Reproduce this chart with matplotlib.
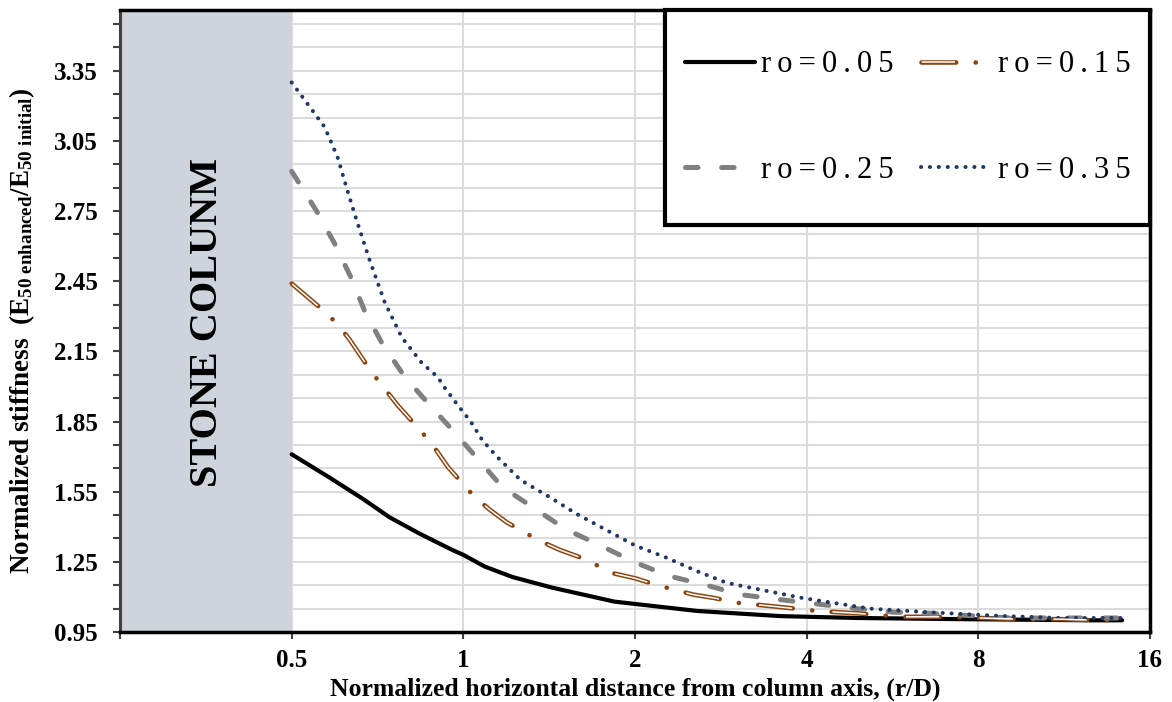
import numpy as np
import matplotlib
matplotlib.use("Agg")
import matplotlib.pyplot as plt
from matplotlib.patches import Rectangle
from matplotlib.ticker import FixedLocator, NullLocator

plt.rcParams['font.family'] = ['Liberation Serif', 'DejaVu Serif']
plt.rcParams['mathtext.fontset'] = 'custom'
plt.rcParams['mathtext.rm'] = 'Liberation Serif:bold'
plt.rcParams['mathtext.bf'] = 'Liberation Serif:bold'
plt.rcParams['mathtext.it'] = 'Liberation Serif:bold'
plt.rcParams['lines.scale_dashes'] = False

# data (r/D vs normalized stiffness)
x_005 = [0.5, 0.583, 0.666, 0.743, 0.839, 0.958, 1.0, 1.09, 1.22, 1.43, 1.84, 2.57, 3.6, 4.9, 7.44, 12.7, 14.3]
y_005 = [1.71, 1.61, 1.52, 1.44, 1.37, 1.30, 1.28, 1.23, 1.185, 1.14, 1.08, 1.04, 1.018, 1.01, 1.005, 1.0, 1.0]

x_015 = [0.5, 0.565, 0.6, 0.632, 0.691, 0.728, 0.767, 0.849, 0.895, 0.94, 1.04, 1.11, 1.19, 1.36,
         1.48, 1.6, 1.84, 2.0, 2.19, 2.53, 2.76, 3.02, 3.49, 3.82, 4.17, 4.9, 5.84, 6.78, 8.07,
         9.48, 11.1, 13.1, 14.3]
y_015 = [2.44, 2.33, 2.27, 2.20, 2.06, 1.99, 1.92, 1.80, 1.73, 1.655, 1.535, 1.475, 1.42, 1.34,
         1.30, 1.27, 1.20, 1.18, 1.15, 1.11, 1.095, 1.075, 1.06, 1.05, 1.04, 1.03, 1.015, 1.015, 1.01,
         1.005, 1.005, 1.0, 1.0]

x_025 = [0.5, 0.553, 0.595, 0.637, 0.672, 0.722, 0.79, 0.866, 0.96, 1.06, 1.17, 1.33, 1.51, 1.74,
         1.99, 2.29, 2.67, 3.06, 3.55, 4.17, 4.9, 5.67, 6.59, 9.1, 14.3]
y_025 = [2.92, 2.75, 2.61, 2.46, 2.32, 2.18, 2.04, 1.93, 1.81, 1.69, 1.57, 1.48, 1.39, 1.32,
         1.25, 1.19, 1.15, 1.11, 1.09, 1.07, 1.05, 1.035, 1.03, 1.01, 1.01]

x_035 = [0.5, 0.571, 0.602, 0.624, 0.65, 0.685, 0.728, 0.78, 0.846, 0.902, 0.924, 0.978, 1.03, 1.08,
         1.145, 1.26, 1.41, 1.58, 1.77, 2.0, 2.26, 2.57, 2.9, 3.18, 3.94, 5.17, 6.5, 8.5, 11.1, 14.3]
y_035 = [3.30, 3.11, 2.98, 2.85, 2.71, 2.54, 2.36, 2.21, 2.10, 2.04, 2.0, 1.92, 1.85, 1.77,
         1.70, 1.60, 1.53, 1.455, 1.39, 1.32, 1.27, 1.21, 1.16, 1.14, 1.095, 1.05, 1.035, 1.02, 1.01, 1.01]

labels = ['ro=0.05', 'ro=0.15', 'ro=0.25', 'ro=0.35']
x_ticks = [0.25, 0.5, 1, 2, 4, 8, 16]
x_ticklabels = ['', '0.5', '1', '2', '4', '8', '16']
y_ticks = [0.95, 1.25, 1.55, 1.85, 2.15, 2.45, 2.75, 3.05, 3.35]

brown = '#8c4410'
navy = '#1f3864'
gray = '#808080'


def spaced(s):
    return '\u2009'.join(s)


fig = plt.figure(figsize=(11.72, 7.02), dpi=100)
ax = fig.add_axes([0.1024, 0.0997, 0.9812 - 0.1024, 0.9858 - 0.0997])

ax.set_xscale('log', base=2)
ax.set_xlim(0.25, 16)
ax.set_ylim(0.95, 3.61)

# stone column zone
ax.axvspan(0.25, 0.5, color='#cfd3dc', zorder=1.5, lw=0)
ax.text(0.0854, 0.498, 'STONE COLUNM', transform=ax.transAxes, rotation=90,
        ha='center', va='center', fontsize=29, fontweight='bold', zorder=3)

l1, = ax.plot(x_005, y_005, color='black', lw=3, solid_capstyle='round', zorder=4)
period = 25 + 14 + 0.1 + 14
l2a, = ax.plot(x_015, y_015, color=brown, lw=3.3, dashes=(25, 14, 0.1, 14),
               dash_capstyle='round', zorder=4)
l2b, = ax.plot(x_015, y_015, color='white', lw=1.1, zorder=4.1)
l2b.set_linestyle((period - 0.5, (24, period - 24)))
l2b.set_dash_capstyle('butt')
l3, = ax.plot(x_025, y_025, color=gray, lw=3.6, dashes=(9, 17), dash_capstyle='round', zorder=4)
l4, = ax.plot(x_035, y_035, color=navy, lw=2.9, dashes=(0.1, 6.3), dash_capstyle='round', zorder=4)

# axes styling
ax.xaxis.set_major_locator(FixedLocator(x_ticks))
ax.set_xticklabels(x_ticklabels)
ax.xaxis.set_minor_locator(NullLocator())
ax.set_yticks(y_ticks)
ax.yaxis.set_minor_locator(FixedLocator(np.arange(0.95, 3.61, 0.1)))
ax.tick_params(axis='both', which='both', direction='out', length=5, width=1.5, color='#404040')
ax.tick_params(axis='y', which='major', pad=11, labelsize=18)
ax.tick_params(axis='x', which='major', pad=7, labelsize=18)
for lab in ax.get_xticklabels() + ax.get_yticklabels():
    lab.set_fontweight('bold')

ax.grid(True, axis='y', which='both', color='#dcdcdc', lw=1.5, zorder=0)
ax.grid(True, axis='x', which='major', color='#dcdcdc', lw=1.5, zorder=0)
ax.set_axisbelow(True)

for side in ['top', 'right', 'bottom']:
    ax.spines[side].set_linewidth(2.5)
    ax.spines[side].set_color('black')
ax.spines['left'].set_linewidth(2.2)
ax.spines['left'].set_color('#404040')

ax.set_xlabel('Normalized horizontal distance from column axis, (r/D)',
              fontsize=18.5, fontweight='bold')
ax.xaxis.set_label_coords(0.5, -0.073)
ax.set_ylabel(r'Normalized stiffness  ($\mathrm{E_{50\ enhanced}/E_{50\ initial}}$)',
              fontsize=19.5, fontweight='bold')
ax.yaxis.set_label_coords(-0.081, 0.484)

# legend box
ax.add_patch(Rectangle((0.529, 0.654), 0.471, 0.346, transform=ax.transAxes,
                       facecolor='white', edgecolor='black', lw=3, zorder=6, clip_on=False))
handles = [l1, l3, (l2a, l2b), l4]
leg_labels = [spaced(labels[0]), spaced(labels[2]), spaced(labels[1]), spaced(labels[3])]
leg = ax.legend(handles, leg_labels, ncol=2, loc='center',
                bbox_to_anchor=(0.529 + 0.471 / 2, 0.654 + 0.346 / 2),
                frameon=False, fontsize=22, handlelength=2.3, handletextpad=0.2,
                columnspacing=0.9, labelspacing=2.5, borderpad=0)
leg.set_zorder(7)

fig.savefig('out.png', dpi=100)
